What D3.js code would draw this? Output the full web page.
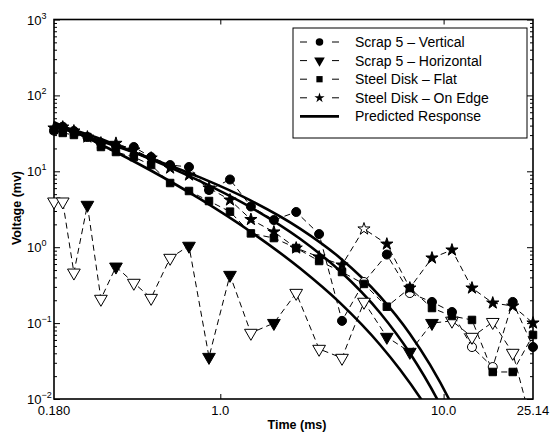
<!DOCTYPE html>
<html>
<head>
<meta charset="utf-8">
<script src="https://cdn.jsdelivr.net/npm/d3@7"></script>
<style>
body { margin: 0; background: #fff; }
text { font-family: "Liberation Sans", Arial, sans-serif; fill: #000; }
</style>
</head>
<body>
<svg id="chart" width="551" height="436"></svg>
<script>
// sample times (ms) shared by the measured series
var times = [0.180, 0.197, 0.221, 0.254, 0.292, 0.341, 0.410, 0.490, 0.596, 0.724, 0.890, 1.105, 1.371,
  1.738, 2.187, 2.77, 3.508, 4.40, 5.57, 7.06, 8.87, 10.9, 13.4, 16.6, 20.4, 25.14];

// measured voltage (mv), negative value -> drawn as hollow marker
var scrapVertical = [34.3, 38.7, 34.0, 28.3, 23.6, 21.5, 20.9, 15.4, 12.1, 11.4, 5.67, 7.80, 3.44,
  2.28, 2.91, 1.49, 0.107, -0.348, 0.80, -0.249, 0.19, 0.14, -0.0484, -0.0264, 0.19, 0.0484];
var scrapHorizontal = [-3.98, -3.98, -0.461, 3.60, -0.208, 0.553, -0.338, -0.214, -0.721, 1.04, 0.0357, 0.43, -0.0741,
  0.100, -0.249, -0.0456, -0.0347, -0.19, 0.0656, 0.0416, 0.100, -0.107, -0.0656, -0.103, -0.0404, -0.004];
var steelFlat = [35.0, 32.0, 30.1, 28.3, 20.9, 17.96, 15.4, 12.1, 7.01, 5.50, 4.06, 2.94, 1.52,
  1.32, 0.976, 0.658, 0.471, 0.328, 0.1645, 0.29, 0.158, 0.124, 0.110, 0.0227, 0.0227, 0.0697];
var steelEdge = [37.2, 38.3, 34.0, 28.3, 23.6, 23.4, 19.1, 14.96, 11.05, 8.94, 6.03, 4.19, 2.32,
  1.59, 0.976, 0.743, 0.583, -1.74, 1.10, 0.29, 0.721, 0.919, 0.29, 0.184, 0.168, 0.1003];

// predicted response, three curves
var predLowT = [0.18, 0.289, 0.484, 0.811, 1.358, 2.275, 3.438, 5.19, 6.39, 7.92, 9.16];
var predLowV = [44.6, 22.9, 10.4, 4.32, 1.62, 0.527, 0.1845, 0.0519, 0.0243, 0.0100, 0.0051];
var predMidT = [0.18, 0.289, 0.484, 0.811, 1.358, 2.275, 3.438, 5.19, 7.07, 9.44, 10.64];
var predMidV = [42.0, 26.9, 14.6, 7.43, 3.40, 1.29, 0.486, 0.137, 0.0401, 0.0095, 0.0047];
var predTopT = [0.18, 0.289, 0.484, 0.811, 1.358, 2.275, 3.438, 5.19, 7.07, 8.69, 10.57, 11.83];
var predTopV = [39.5, 25.2, 14.9, 8.31, 4.17, 1.76, 0.723, 0.2255, 0.0721, 0.0284, 0.0100, 0.0050];

var legendLabels = ['Scrap 5 \u2013 Vertical', 'Scrap 5 \u2013 Horizontal', 'Steel Disk \u2013 Flat',
  'Steel Disk \u2013 On Edge', 'Predicted Response'];
var yTickValues = [0.01, 0.1, 1, 10, 100, 1000];
var yTickExp = ['\u22122', '\u22121', '0', '1', '2', '3'];
var xTickValues = [0.18, 1, 10, 25.14];
var xTickLabels = ['0.180', '1.0', '10.0', '25.14'];

var svg = d3.select('#chart');
var plotL = 54, plotR = 533, plotT = 19.5, plotB = 399;

var x = d3.scaleLog().domain([0.18, 25.14]).range([plotL, plotR]);
var y = d3.scaleLog().domain([0.01, 1000]).range([plotB, plotT]);

svg.append('clipPath').attr('id', 'plotclip')
  .append('rect')
  .attr('x', plotL).attr('y', plotT)
  .attr('width', plotR - plotL).attr('height', plotB - plotT);

// ticks (inside the frame)
function tickAxis(axis, tx, ty, size, values) {
  var g = svg.append('g')
    .attr('transform', 'translate(' + tx + ',' + ty + ')')
    .call(axis.tickValues(values).tickSize(size).tickFormat(''));
  g.select('.domain').remove();
  g.selectAll('line').attr('stroke', '#000').attr('stroke-width', 1);
}
var yMinor = y.ticks().filter(function(v) { return yTickValues.indexOf(v) < 0; });
tickAxis(d3.axisRight(y), plotL, 0, 3, yMinor);
tickAxis(d3.axisRight(y), plotL, 0, 6, yTickValues);
tickAxis(d3.axisLeft(y), plotR, 0, 3, yMinor);
tickAxis(d3.axisLeft(y), plotR, 0, 6, yTickValues);
tickAxis(d3.axisTop(x), 0, plotB, 5, [1, 10]);
tickAxis(d3.axisBottom(x), 0, plotT, 5, [1, 10]);

svg.append('rect')
  .attr('x', plotL).attr('y', plotT)
  .attr('width', plotR - plotL).attr('height', plotB - plotT)
  .attr('fill', 'none').attr('stroke', '#000').attr('stroke-width', 1.6);

// tick labels
yTickValues.forEach(function(v, i) {
  var t = svg.append('text').attr('x', 27).attr('y', y(v) + 5).style('font-size', '13px');
  t.append('tspan').text('10');
  t.append('tspan').attr('dy', -6).style('font-size', '9px').text(yTickExp[i]);
});
svg.selectAll('.xlab')
  .data(xTickValues)
  .enter().append('text')
  .attr('class', 'xlab')
  .attr('x', function(d) { return x(d); })
  .attr('y', 415)
  .attr('text-anchor', 'middle')
  .style('font-size', '13px')
  .text(function(d, i) { return xTickLabels[i]; });

svg.append('text')
  .attr('x', 297).attr('y', 429)
  .attr('text-anchor', 'middle')
  .style('font-size', '12.5px').style('font-weight', 'bold')
  .text('Time (ms)');
svg.append('text')
  .attr('transform', 'translate(21,208) rotate(-90)')
  .attr('text-anchor', 'middle')
  .style('font-size', '12.5px').style('font-weight', 'bold')
  .text('Voltage (mv)');

// measured series
var series = [
  { vals: scrapVertical, type: d3.symbolCircle, size: 64, rot: 0 },
  { vals: scrapHorizontal, type: d3.symbolTriangle, size: 70, rot: 180 },
  { vals: steelFlat, type: d3.symbolSquare, size: 56, rot: 0 },
  { vals: steelEdge, type: d3.symbolStar, size: 46, rot: 0 }
];

var plot = svg.append('g');
var dashLine = d3.line()
  .x(function(d) { return x(d.t); })
  .y(function(d) { return y(Math.abs(d.v)); });

series.forEach(function(s) {
  s.pts = times.map(function(t, i) { return { t: t, v: s.vals[i] }; });
  plot.append('path')
    .attr('clip-path', 'url(#plotclip)')
    .attr('d', dashLine(s.pts))
    .attr('fill', 'none')
    .attr('stroke', '#000')
    .attr('stroke-width', 1)
    .attr('stroke-dasharray', '6,4');
});

// predicted response
var curve = d3.line()
  .x(function(d) { return x(d[0]); })
  .y(function(d) { return y(d[1]); })
  .curve(d3.curveMonotoneX);
[[predLowT, predLowV], [predMidT, predMidV], [predTopT, predTopV]].forEach(function(c) {
  plot.append('path')
    .attr('clip-path', 'url(#plotclip)')
    .attr('d', curve(c[0].map(function(t, i) { return [t, c[1][i]]; })))
    .attr('fill', 'none')
    .attr('stroke', '#000')
    .attr('stroke-width', 2.6);
});

series.forEach(function(s) {
  plot.selectAll(null)
    .data(s.pts.filter(function(d) { return Math.abs(d.v) >= 0.01; }))
    .enter().append('path')
    .attr('transform', function(d) { return 'translate(' + x(d.t) + ',' + y(Math.abs(d.v)) + ') rotate(' + s.rot + ')'; })
    .attr('d', d3.symbol().type(s.type).size(s.size))
    .attr('fill', function(d) { return d.v < 0 ? '#fff' : '#000'; })
    .attr('stroke', '#000')
    .attr('stroke-width', 1);
});

// legend
var legend = svg.append('g');
legend.append('rect')
  .attr('x', 293).attr('y', 28)
  .attr('width', 234).attr('height', 110)
  .attr('fill', '#fff').attr('stroke', '#000').attr('stroke-width', 1);

var legendG = legend.selectAll('.legend')
  .data(legendLabels)
  .enter().append('g')
  .attr('class', 'legend')
  .attr('transform', function(d, i) { return 'translate(0,' + (42 + i * 18.6) + ')'; });

legendG.append('line')
  .attr('x1', 300).attr('x2', 339)
  .attr('stroke', '#000')
  .attr('stroke-width', function(d, i) { return i == 4 ? 2.6 : 1; })
  .attr('stroke-dasharray', function(d, i) { return i == 4 ? null : '7,25,7'; });

legendG.filter(function(d, i) { return i < 4; })
  .append('path')
  .attr('transform', function(d, i) { return 'translate(319.5,0) rotate(' + series[i].rot + ')'; })
  .attr('d', function(d, i) { return d3.symbol().type(series[i].type).size(series[i].size * 0.7)(); })
  .attr('fill', '#000');

legendG.append('text')
  .attr('x', 355).attr('y', 5)
  .style('font-size', '14px')
  .text(function(d) { return d; });
</script>
</body>
</html>
